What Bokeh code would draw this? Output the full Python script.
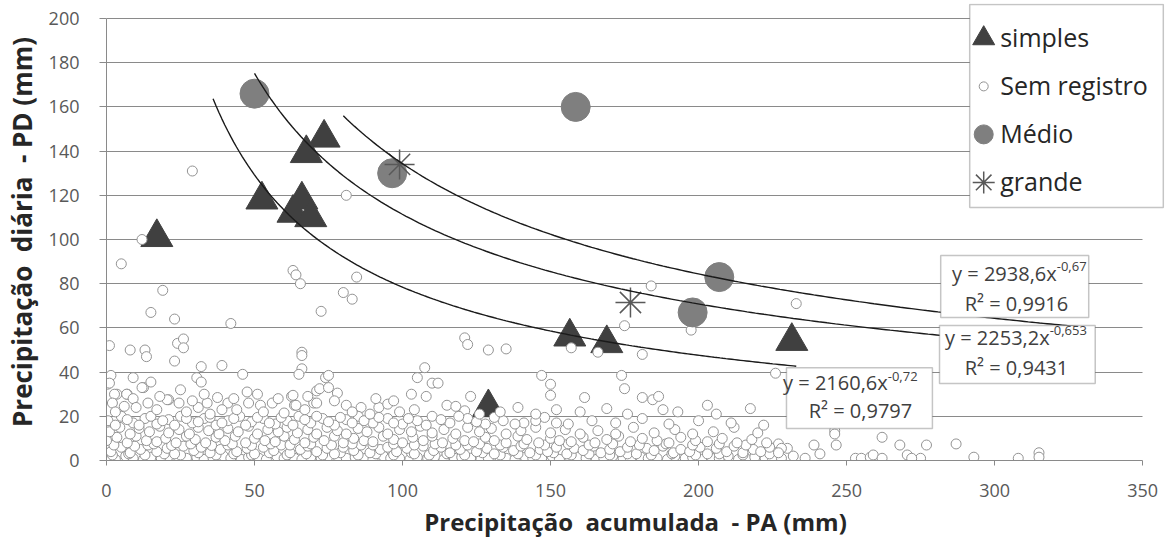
import numpy as np
from bokeh.plotting import figure
from bokeh.models import Range1d, FixedTicker, Legend, LegendItem, Label, BoxAnnotation
from bokeh.embed import file_html
from bokeh.resources import INLINE

FONT = "Open Sans"

# ---------------- data ----------------
x_ticks = [0, 50, 100, 150, 200, 250, 300, 350]
y_ticks = [0, 20, 40, 60, 80, 100, 120, 140, 160, 180, 200]

x_title = "Precipitação\u00a0\u00a0acumulada\u00a0\u00a0- PA (mm)"
y_title = "Precipitação\u00a0\u00a0diária\u00a0\u00a0- PD (mm)"

series_names = ["simples", "Sem registro", "Médio", "grande"]

simples_x = [17, 52.5, 63, 66, 69, 67.5, 73.5, 129, 156.5, 169, 231.5]
simples_y = [101, 118, 112, 118, 110, 139, 146, 24, 56, 53, 54]

medio_x = [50, 96.5, 158.5, 198, 207]
medio_y = [166, 130, 160, 67, 83]

grande_x = [99, 177]
grande_y = [134, 71.5]

# "Sem registro" points (PA, PD)
sem_registro = [
    # isolated points
    (29, 131), (81, 120), (12, 100), (5, 89), (19, 77), (15, 67), (23, 64), (42, 62),
    (63, 86), (64, 84), (65.5, 80), (72.5, 67.5), (80, 76), (83, 73), (84.5, 83),
    (1, 52), (8, 50), (13, 50), (13.5, 47), (24, 53), (26, 55), (26, 51), (23, 45),
    (66, 49), (66, 47.5), (32, 42.5), (39, 43), (46, 39), (66, 41.5), (65, 39),
    (1.5, 38.5), (0.3, 34.5), (9, 37.5), (12.5, 33), (15, 35.5), (30.5, 37.5), (32, 35.5),
    (3.5, 30), (7, 30), (25, 32), (21, 27.5), (24.5, 26), (47.5, 31), (51, 30), (62.5, 29),
    (63.5, 25), (70, 26), (71, 31.5), (74, 37.5), (75, 38.5), (78, 30.5), (81, 25), (92, 24),
    (95, 25.5), (121, 55.5), (122, 52.5), (129, 50), (135, 50.5), (107.5, 42), (105, 37.5),
    (110, 35), (112, 35), (103, 30), (108, 29), (115, 25), (118, 24.5), (121, 22.5), (123, 29),
    (147, 38.5), (150, 34.5), (150, 29.5), (161.5, 28.5), (169, 23.5), (157, 51), (166, 49),
    (175, 61), (174, 38.5), (175, 32.5), (181, 48), (184, 79), (181, 28.5), (184.5, 27.5),
    (186.5, 29), (188, 23), (197.5, 59), (203, 25), (217.5, 23.5), (226, 39.5), (233, 71),
    (227, 7.5), (230, 5.5), (228, 5.5), (246, 13.5), (246.5, 7), (262, 10.5), (277, 7),
    (287, 7.5), (293, 1.5), (308, 1), (315, 3.5), (315, 1.5), (253, 1), (255, 1), (258, 1.5),
    (259, 2.5), (262, 1), (270.5, 2.5), (275, 1), (272, 1), (246, 12), (239, 7), (268, 7),
    (232, 2), (236, 1), (241, 3),
    (31, 24), (34, 26), (37.5, 28.5), (41, 26), (48, 26), (56, 26), (63, 29.5), (64, 25),
    (71, 26), (72, 32.5), (75, 33), (20.5, 27.5), (1, 35), (2.7, 30), (6.8, 30), (12, 33),
    (2, 26), (6, 24.5), (9, 28), (14, 26), (18, 29), (29, 27), (33, 30), (39, 23), (43, 28),
    (52, 25), (58, 28), (68, 29), (77, 27), (86, 24), (91, 28), (97, 27),
    # dense band, y ~ 0-2
    (0.5, 1), (3, 0.5), (6.5, 2), (9, 1), (12.5, 0.5), (15, 1.5), (18.5, 1), (21, 2), (24.5, 0.5),
    (27, 1), (30.5, 1.5), (33, 0.5), (36, 1), (39.5, 2), (42, 1), (45.5, 0.5), (48, 1.5),
    (51.5, 1), (54, 0.5), (57.5, 2), (60, 1), (63.5, 1), (66, 0.5), (69, 1.5), (72.5, 1),
    (75, 2), (78.5, 0.5), (81, 1), (84, 1.5), (87.5, 1), (90, 0.5), (93.5, 2), (96, 1), (99, 1),
    (102.5, 0.5), (105, 1.5), (108.5, 1), (111, 2), (114, 0.5), (117.5, 1), (120, 1.5), (123, 1),
    (126.5, 0.5), (129, 1), (132.5, 2), (135, 1), (138, 0.5), (141.5, 1.5), (144, 1), (147, 1),
    (150.5, 2), (153, 0.5), (156.5, 1), (159, 1.5), (162, 1), (165.5, 0.5), (168, 1), (171, 2),
    (174.5, 1), (177, 0.5), (180.5, 1.5), (183, 1), (186, 1), (189.5, 0.5), (192, 2), (195.5, 1),
    (198, 1.5), (201, 0.5), (204.5, 1), (207, 1), (210, 2), (213.5, 0.5), (216, 1), (219, 1.5),
    (222.5, 1), (225, 0.5), (228, 1),
    # y ~ 2.5-3.5
    (2, 2.5), (7.5, 3), (13, 2.5), (19.5, 3), (25, 2.5), (31, 3.5), (37, 2.5), (43, 3), (49, 2.5),
    (55, 3.5), (61, 2.5), (67.5, 3), (73, 2.5), (79, 3.5), (85, 2.5), (91, 3), (97, 2.5),
    (103, 3.5), (109, 2.5), (115, 3), (121, 2.5), (127, 3.5), (133, 2.5), (139, 3), (145, 2.5),
    (151, 3.5), (157, 2.5), (163, 3), (170, 2.5), (176, 3), (184, 2.5), (191, 3), (199, 2.5),
    (207, 3), (215, 2.5), (224, 3),
    # y ~ 3-7
    (1.5, 4), (5, 6), (8, 3.5), (11.5, 5), (14, 7), (17, 4), (20.5, 5.5), (23, 3), (26, 6.5),
    (29.5, 4.5), (32, 6), (35, 3.5), (38.5, 5), (41, 7), (44, 4), (47.5, 5.5), (50, 3), (53, 6),
    (56.5, 4.5), (59, 7), (62, 3.5), (65.5, 5), (68, 6.5), (71, 4), (74.5, 5.5), (77, 3), (80, 6),
    (83.5, 4.5), (86, 7), (89, 3.5), (92.5, 5), (95, 6), (98, 4), (101.5, 5.5), (104, 3),
    (107, 6.5), (110.5, 4.5), (113, 6), (116, 3.5), (119.5, 5), (122, 7), (125, 4), (128.5, 5.5),
    (131, 3), (134, 6), (137.5, 4.5), (140, 6.5), (143, 3.5), (146.5, 5), (149, 4), (152, 6),
    (155.5, 3), (158, 5.5), (161, 4.5), (164.5, 6.5), (167, 3.5), (170, 5), (173.5, 4), (176, 6),
    (179, 3), (182.5, 5.5), (185, 4.5), (188, 6.5), (191.5, 3.5), (194, 5), (197, 4), (200.5, 6),
    (203, 3), (206, 5.5), (209.5, 4), (212, 6.5), (215, 3.5), (218.5, 5), (221, 4), (224, 6),
    (227, 3.5),
    # y ~ 7
    (2.5, 7), (9.5, 6.5), (16, 7.5), (22, 6.8), (28.5, 7.5), (35.5, 6.8), (42.5, 7.5), (49, 6.8),
    (55.5, 7.5), (62, 7), (69, 7.5), (76, 7), (83, 7.5), (90, 7), (97, 7.5), (104, 7),
    (111, 7.5), (118, 7), (126, 7.5), (133, 7), (141, 7.5), (148, 7), (156, 7.5), (163, 7),
    (171, 7.5), (180, 7), (189, 7.5), (198, 7), (207, 7.5), (216, 7),
    # y ~ 8-11
    (0, 9), (3.5, 10.5), (7, 8), (10, 11), (13.5, 9), (17, 8.5), (20, 10), (23.5, 8), (27, 11),
    (30, 9.5), (33.5, 8), (37, 10.5), (40, 9), (43.5, 11), (47, 8), (50, 10), (53.5, 9),
    (57, 8.5), (60, 11), (63.5, 9.5), (67, 8), (70, 10.5), (73.5, 9), (77, 11), (80, 8),
    (83.5, 10), (87, 9), (90, 8.5), (93.5, 11), (97, 9.5), (100, 8), (103.5, 10.5), (107, 9),
    (110, 11), (113.5, 8), (117, 10), (121, 9), (124, 8.5), (128, 10.5), (131, 9), (135, 8),
    (139, 11), (142, 9.5), (146, 8), (150, 10), (153, 9), (157, 8.5), (161, 10.5), (165, 8),
    (169, 9.5), (173, 11), (177, 8.5), (181, 10), (186, 9), (190, 8), (194, 10.5), (199, 9),
    (203, 8.5), (208, 10), (213, 8), (218, 9.5), (223, 8),
    # y ~ 12-15
    (1, 13), (4.5, 15), (8, 12), (11, 14.5), (14.5, 13), (18, 15.5), (21, 12.5), (24.5, 14),
    (28, 12), (31, 15), (34.5, 13.5), (38, 12), (41, 14.5), (44.5, 13), (48, 15.5), (51, 12),
    (54.5, 14), (58, 13), (61, 15), (64.5, 12.5), (68, 14), (71, 12), (74.5, 15), (78, 13.5),
    (81, 12), (85, 14.5), (88, 13), (92, 15), (95, 12), (99, 14), (103, 13), (106, 15.5),
    (110, 12.5), (114, 14), (118, 12), (122, 15), (126, 13), (130, 14.5), (135, 12), (140, 13.5),
    (145, 15), (150, 12.5), (155, 14), (160, 12), (166, 13.5), (172, 12), (178, 15), (185, 12.5),
    (192, 14), (198, 12), (205, 13), (212, 15), (220, 12.5),
    # y ~ 16-20
    (0.5, 18), (5, 20), (9, 17), (13, 19), (17, 16.5), (21, 18.5), (25, 20), (29, 17), (33, 19),
    (37, 16), (41, 18), (45, 20), (49, 17.5), (53, 19), (57, 16.5), (61, 18), (65, 20), (69, 17),
    (73, 19), (77, 16), (81, 18.5), (85, 20), (90, 17), (95, 19), (100, 16.5), (105, 18),
    (110, 20), (116, 17), (122, 19), (128, 16.5), (134, 18), (141, 17), (148, 19.5), (156, 16.5),
    (164, 18), (172, 17), (181, 19), (190, 16.5), (200, 18), (211, 17), (222, 16),
    (3, 16), (7, 18.5), (11, 16), (15, 20), (19, 18), (23, 16), (27, 19), (31, 17.5), (35, 19.5),
    (39, 17), (43, 19), (47, 16), (51, 19.5), (55, 17), (59, 19.5), (63, 16), (67, 18.5),
    (71, 20), (75, 17.5), (79, 19.5), (83, 17), (87, 18), (92, 19.5), (97, 17), (102, 19),
    (108, 16), (113, 18.5), (119, 20), (125, 17.5), (131, 19.5), (138, 16.5), (145, 18), (152, 17),
    # y ~ 21-24
    (3, 22), (10, 24), (17, 23), (27, 22), (35, 21), (44, 23), (53, 22), (60, 21.5), (67, 23),
    (83, 22), (89, 21), (99, 22), (104, 23), (126, 21), (133, 22), (139, 24), (145, 21),
    (152, 23), (160, 22), (176, 21), (193, 22), (206, 21),
]
sem_x = [pt[0] for pt in sem_registro]
sem_y = [pt[1] for pt in sem_registro]

# power trendlines y = a * x^b
trend_a = [2160.6, 2253.2, 2938.6]
trend_b = [-0.72, -0.653, -0.67]
trend_x_start = [36, 50, 80]
trend_x_end = [233, 333, 333]
trend_eq = ["y = 2160,6x", "y = 2253,2x", "y = 2938,6x"]
trend_exp = ["-0,72", "-0,653", "-0,67"]
trend_r2 = ["R² = 0,9797", "R² = 0,9431", "R² = 0,9916"]

# ---------------- layout / style ----------------
XMAX, YMAX = 350, 200          # axis extent
XR, YR = 357.4, 206.8          # frame extent (room for the legend box)
FW, FH = 1058, 457

# equation box placement (data coords)
eq_layout = [
    dict(l=229.7, r=279.0, b=14.5, t=42.0, ex=263.9, ey=35.3, sy=37.9, rx=254.7, ry=22.6),
    dict(l=281.4, r=334.0, b=34.8, t=61.1, ex=318.6, ey=55.7, sy=58.8, rx=307.4, ry=42.0),
    dict(l=281.8, r=331.8, b=64.7, t=92.8, ex=321.0, ey=84.6, sy=87.8, rx=307.4, ry=71.0),
]
leg_box = dict(l=291.6, r=357.0, b=114.5, t=206.4)

TXT = "#404040"
GRID = "#8a8a8a"

p = figure(frame_width=FW, frame_height=FH,
           x_range=Range1d(0, XR), y_range=Range1d(0, YR),
           output_backend="svg", toolbar_location=None,
           min_border_left=102, min_border_right=8, min_border_top=3, min_border_bottom=80,
           outline_line_color=None, background_fill_color="white", border_fill_color="white")

p.xgrid.visible = False
p.ygrid.ticker = FixedTicker(ticks=y_ticks)
p.ygrid.grid_line_color = GRID
p.ygrid.grid_line_width = 1
p.ygrid.bounds = (0, YMAX)
try:
    p.ygrid.cross_bounds = (0, XMAX)
except Exception:
    pass

p.xaxis.ticker = FixedTicker(ticks=x_ticks)
p.yaxis.ticker = FixedTicker(ticks=y_ticks)
p.xaxis.bounds = (0, XMAX)
p.yaxis.bounds = (0, YMAX)
for ax in (p.xaxis, p.yaxis):
    ax.axis_line_color = GRID
    ax.major_tick_line_color = GRID
    ax.minor_tick_line_color = None
    ax.major_tick_in = 0
    ax.major_label_text_font = FONT
    ax.major_label_text_font_size = "18px"
    ax.major_label_text_color = "#595959"
    ax.axis_label_text_font = FONT
    ax.axis_label_text_font_style = "bold"
    ax.axis_label_text_color = "#262626"
p.xaxis.axis_label_text_font_size = "24px"
p.yaxis.axis_label_text_font_size = "26px"
p.xaxis.major_tick_out = 5
p.yaxis.major_tick_out = 7
p.xaxis.major_label_standoff = 18
p.yaxis.major_label_standoff = 20
p.xaxis.axis_label = x_title
p.yaxis.axis_label = y_title
p.xaxis.axis_label_standoff = 5
p.yaxis.axis_label_standoff = 6

# legend box (drawn beneath the series, above the grid)
p.add_layout(BoxAnnotation(left=leg_box["l"], right=leg_box["r"], bottom=leg_box["b"],
                           top=leg_box["t"], fill_color="white", fill_alpha=1.0,
                           line_color="#404040", line_width=1.5, level="underlay"))

# series (Excel drawing order)
SEM_EDGE = "#939393"
r_simples = p.scatter(simples_x, simples_y, marker="triangle", size=32,
                      fill_color="#404040", line_color="#404040")
r_sem = p.scatter(sem_x, sem_y, marker="circle", size=10, fill_color="white",
                  line_color=SEM_EDGE, line_width=1)
r_medio = p.scatter(medio_x, medio_y, marker="circle", size=29,
                    fill_color="#7f7f7f", line_color="#7f7f7f")
r_grande = p.scatter(grande_x, grande_y, marker="asterisk", size=30,
                     line_color="#595959", line_width=1.5)

# trendlines
for a, b, x0, x1 in zip(trend_a, trend_b, trend_x_start, trend_x_end):
    xs = np.linspace(x0, x1, 200)
    p.line(xs, a * xs ** b, line_color="#1a1a1a", line_width=1.4)

# equation boxes
for eq, ex, r2, lay in zip(trend_eq, trend_exp, trend_r2, eq_layout):
    p.add_layout(BoxAnnotation(left=lay["l"], right=lay["r"], bottom=lay["b"], top=lay["t"],
                               fill_color="white", fill_alpha=1.0,
                               line_color="#404040", line_width=1.5))
    p.add_layout(Label(x=lay["ex"], y=lay["ey"], text=eq, text_font=FONT,
                       text_font_size="20px", text_color=TXT,
                       text_align="right", text_baseline="middle"))
    p.add_layout(Label(x=lay["ex"], y=lay["sy"], text=ex, text_font=FONT,
                       text_font_size="13px", text_color=TXT,
                       text_align="left", text_baseline="middle"))
    p.add_layout(Label(x=lay["rx"], y=lay["ry"], text=r2, text_font=FONT,
                       text_font_size="20px", text_color=TXT,
                       text_align="center", text_baseline="middle"))

# legend: labels via Legend (transparent), icons drawn with the series' styles
PAD, GW, GH, SP = 5, 24, 36, 12
px_x = FW / XR
px_y = FH / YR
leg_x = leg_box["l"] * px_x
leg_first_center = (leg_box["t"] * px_y) - 34           # first item centre (screen, from bottom)
leg_h = 2 * PAD + 4 * GH + 3 * SP
leg_y = leg_first_center + GH / 2 + PAD - leg_h + 6     # text baseline compensation
proxies = []
for mk in ["triangle", "circle", "circle", "asterisk"]:
    proxies.append(p.scatter(x=[], y=[], marker=mk, size=10, fill_alpha=0, line_alpha=0))
legend = Legend(items=[LegendItem(label=n, renderers=[r]) for n, r in zip(series_names, proxies)],
                location=(leg_x, leg_y), orientation="vertical",
                padding=PAD, spacing=SP, glyph_width=GW, glyph_height=GH, label_standoff=7,
                margin=0, label_text_font=FONT, label_text_font_size="25px",
                label_text_color="#262626", label_text_baseline="middle",
                border_line_color=None, background_fill_alpha=0.0)
p.add_layout(legend)

icon_x = leg_box["l"] + (PAD + GW / 2 - 3) / px_x
icon_y = [(leg_first_center - i * (GH + SP)) / px_y for i in range(4)]
p.scatter([icon_x], [icon_y[0]], marker="triangle", size=22, fill_color="#404040",
          line_color="#404040")
p.scatter([icon_x], [icon_y[1]], marker="circle", size=9, fill_color="white",
          line_color=SEM_EDGE)
p.scatter([icon_x], [icon_y[2]], marker="circle", size=19, fill_color="#7f7f7f",
          line_color="#7f7f7f")
p.scatter([icon_x], [icon_y[3]], marker="asterisk", size=22, line_color="#595959",
          line_width=1.5)

open("out.html", "w").write(file_html(p, INLINE))
